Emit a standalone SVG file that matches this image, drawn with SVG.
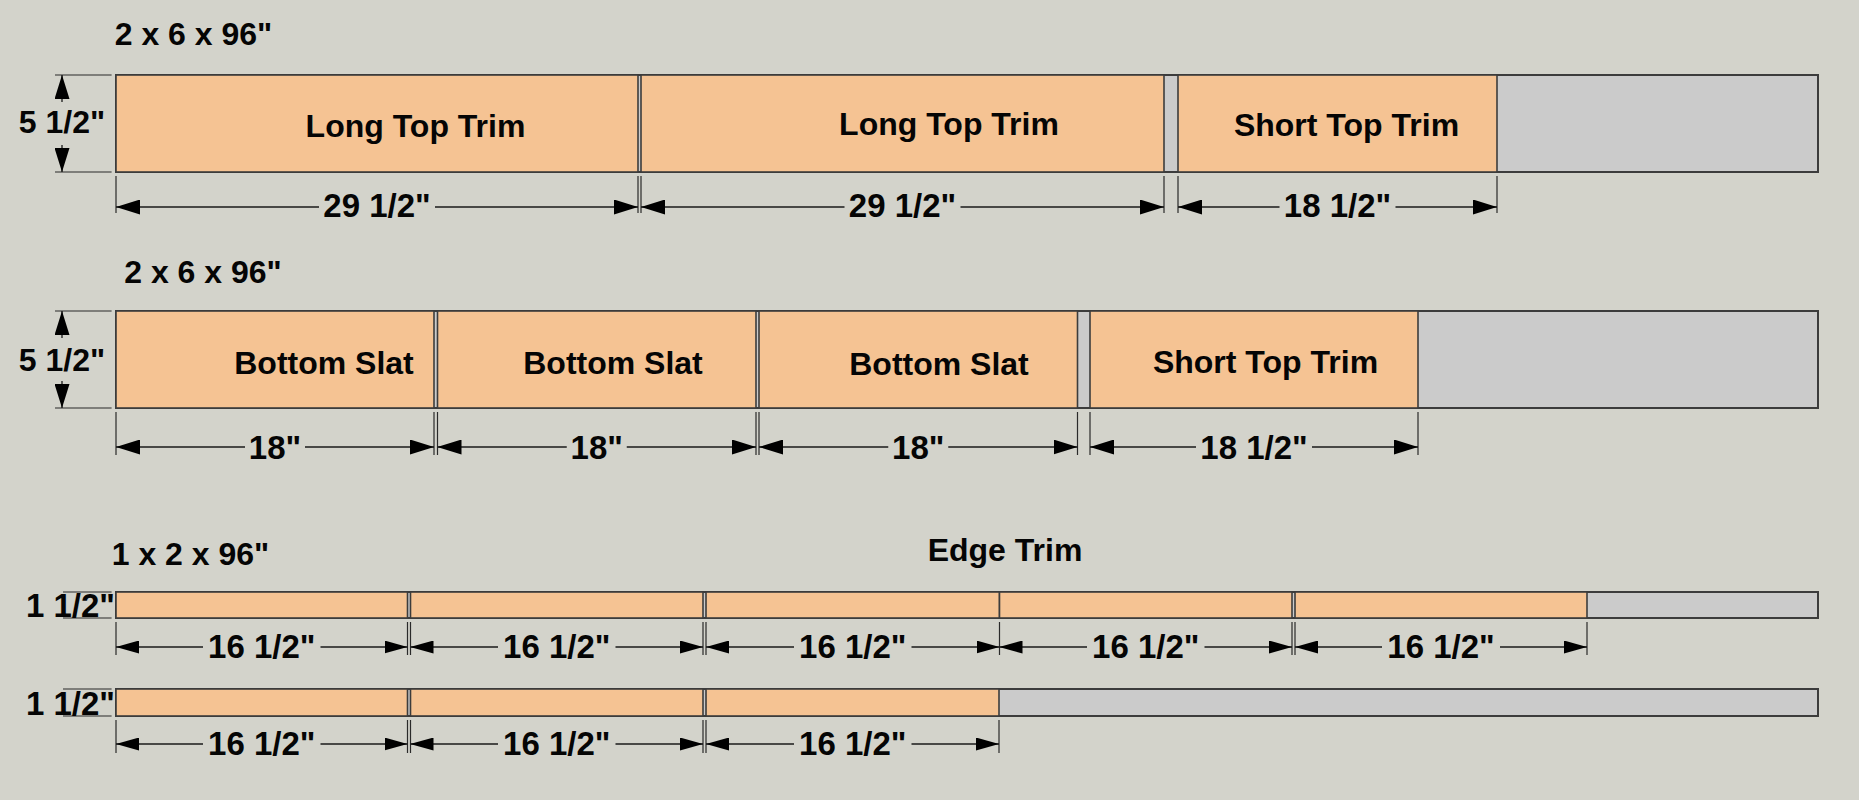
<svg xmlns="http://www.w3.org/2000/svg" width="1859" height="800" viewBox="0 0 1859 800">
<style>
.bg{fill:#d3d3cb}
.stock{fill:#cbcbcb;stroke:#3c3c3c;stroke-width:2}
.piece{fill:#f5c393;stroke:#3c3c3c;stroke-width:1.6}
.ext{stroke:#2a2a2a;stroke-width:1.2;fill:none}
.dim{stroke:#1a1a1a;stroke-width:1.3;fill:none}
text{font-family:"Liberation Sans",Arial,sans-serif;font-weight:bold;fill:#050505;text-anchor:middle}
.lbl{font-size:32px}
.dt{font-size:33px}
</style>
<defs>
<marker id="aL" markerWidth="24" markerHeight="15" refX="24" refY="7.5" orient="auto-start-reverse" markerUnits="userSpaceOnUse"><path d="M0,0 L24,7.5 L0,15 Z" fill="#000"/></marker>
<marker id="aS" markerWidth="23" markerHeight="13" refX="23" refY="6.5" orient="auto-start-reverse" markerUnits="userSpaceOnUse"><path d="M0,0 L23,6.5 L0,13 Z" fill="#000"/></marker>
</defs>
<rect class="bg" x="0" y="0" width="1859" height="800"/>

<!-- Board 1 -->
<g id="board1">
<text class="lbl" x="193.5" y="45">2 x 6 x 96"</text>
<rect class="stock" x="116" y="75" width="1702" height="97"/>
<g id="b1p1"><rect class="piece" x="116" y="75" width="522" height="97"/><text class="lbl" x="415.5" y="137">Long Top Trim</text></g>
<g id="b1p2"><rect class="piece" x="641" y="75" width="523" height="97"/><text class="lbl" x="949" y="135">Long Top Trim</text></g>
<g id="b1p3"><rect class="piece" x="1178" y="75" width="319" height="97"/><text class="lbl" x="1346.5" y="136">Short Top Trim</text></g>
</g>
<g id="dims1">
<path class="ext" d="M55,75 H111.6 M55,172 H111.6"/>
<path class="dim" d="M62,102 V75" marker-end="url(#aL)"/>
<path class="dim" d="M62,145 V172" marker-end="url(#aL)"/>
<text class="lbl" x="62" y="133">5 1/2"</text>
<path class="ext" d="M116,176 V213 M638,176 V213 M641,176 V213 M1164,176 V213 M1178,176 V213 M1497,176 V213"/>
<path class="dim" d="M319,207 H116" marker-end="url(#aL)"/><path class="dim" d="M435,207 H638" marker-end="url(#aL)"/>
<text class="dt" x="377" y="217">29 1/2"</text>
<path class="dim" d="M844.5,207 H641" marker-end="url(#aL)"/><path class="dim" d="M960.5,207 H1164" marker-end="url(#aL)"/>
<text class="dt" x="902.5" y="217">29 1/2"</text>
<path class="dim" d="M1279.5,207 H1178" marker-end="url(#aL)"/><path class="dim" d="M1395.5,207 H1497" marker-end="url(#aL)"/>
<text class="dt" x="1337.5" y="217">18 1/2"</text>
</g>

<!-- Board 2 -->
<g id="board2">
<text class="lbl" x="203" y="283">2 x 6 x 96"</text>
<rect class="stock" x="116" y="311" width="1702" height="97"/>
<g id="b2p1"><rect class="piece" x="116" y="311" width="318" height="97"/><text class="lbl" x="324" y="374">Bottom Slat</text></g>
<g id="b2p2"><rect class="piece" x="437.5" y="311" width="318.5" height="97"/><text class="lbl" x="613" y="374">Bottom Slat</text></g>
<g id="b2p3"><rect class="piece" x="759" y="311" width="318.5" height="97"/><text class="lbl" x="939" y="375">Bottom Slat</text></g>
<g id="b2p4"><rect class="piece" x="1090" y="311" width="328" height="97"/><text class="lbl" x="1265.5" y="373">Short Top Trim</text></g>
</g>
<g id="dims2">
<path class="ext" d="M55,311 H111.6 M55,408 H111.6"/>
<path class="dim" d="M62,338 V311" marker-end="url(#aL)"/>
<path class="dim" d="M62,381 V408" marker-end="url(#aL)"/>
<text class="lbl" x="62" y="371">5 1/2"</text>
<path class="ext" d="M116,412 V455 M434,412 V455 M437.5,412 V455 M756,412 V455 M759,412 V455 M1077.5,412 V455 M1090,412 V455 M1418,412 V455"/>
<path class="dim" d="M245,447 H116" marker-end="url(#aL)"/><path class="dim" d="M305,447 H434" marker-end="url(#aL)"/>
<text class="dt" x="275" y="459">18"</text>
<path class="dim" d="M566.75,447 H437.5" marker-end="url(#aL)"/><path class="dim" d="M626.75,447 H756" marker-end="url(#aL)"/>
<text class="dt" x="596.75" y="459">18"</text>
<path class="dim" d="M888.25,447 H759" marker-end="url(#aL)"/><path class="dim" d="M948.25,447 H1077.5" marker-end="url(#aL)"/>
<text class="dt" x="918.25" y="459">18"</text>
<path class="dim" d="M1196,447 H1090" marker-end="url(#aL)"/><path class="dim" d="M1312,447 H1418" marker-end="url(#aL)"/>
<text class="dt" x="1254" y="459">18 1/2"</text>
</g>

<!-- Board 3 -->
<g id="board3">
<text class="lbl" x="190.5" y="565">1 x 2 x 96"</text>
<text class="lbl" x="1005" y="561">Edge Trim</text>
<rect class="stock" x="116" y="592" width="1702" height="26"/>
<rect class="piece" x="116" y="592" width="291.5" height="26"/>
<rect class="piece" x="410.5" y="592" width="292.5" height="26"/>
<rect class="piece" x="706" y="592" width="293.5" height="26"/>
<rect class="piece" x="999.5" y="592" width="292.5" height="26"/>
<rect class="piece" x="1295" y="592" width="292" height="26"/>
</g>
<g id="dims3">
<path class="ext" d="M63,592 H111.6 M63,618 H111.6"/>
<text class="dt" x="70.5" y="617">1 1/2"</text>
<path class="ext" d="M116,622 V655 M407.5,622 V655 M410.5,622 V655 M703,622 V655 M706,622 V655 M999.5,622 V655 M1292,622 V655 M1295,622 V655 M1587,622 V655"/>
<path class="dim" d="M203,647 H116" marker-end="url(#aS)"/><path class="dim" d="M320.5,647 H407.5" marker-end="url(#aS)"/>
<text class="dt" x="261.75" y="658">16 1/2"</text>
<path class="dim" d="M498,647 H410.5" marker-end="url(#aS)"/><path class="dim" d="M615.5,647 H703" marker-end="url(#aS)"/>
<text class="dt" x="556.75" y="658">16 1/2"</text>
<path class="dim" d="M794,647 H706" marker-end="url(#aS)"/><path class="dim" d="M911.5,647 H999.5" marker-end="url(#aS)"/>
<text class="dt" x="852.75" y="658">16 1/2"</text>
<path class="dim" d="M1087,647 H999.5" marker-end="url(#aS)"/><path class="dim" d="M1204.5,647 H1292" marker-end="url(#aS)"/>
<text class="dt" x="1145.75" y="658">16 1/2"</text>
<path class="dim" d="M1382,647 H1295" marker-end="url(#aS)"/><path class="dim" d="M1500,647 H1587" marker-end="url(#aS)"/>
<text class="dt" x="1441" y="658">16 1/2"</text>
</g>

<!-- Board 4 -->
<g id="board4">
<rect class="stock" x="116" y="689" width="1702" height="27"/>
<rect class="piece" x="116" y="689" width="291.5" height="27"/>
<rect class="piece" x="410.5" y="689" width="292.5" height="27"/>
<rect class="piece" x="706" y="689" width="293" height="27"/>
</g>
<g id="dims4">
<path class="ext" d="M63,689 H111.6 M63,716 H111.6"/>
<text class="dt" x="70.5" y="715">1 1/2"</text>
<path class="ext" d="M116,720 V753 M407.5,720 V753 M410.5,720 V753 M703,720 V753 M706,720 V753 M999,720 V753"/>
<path class="dim" d="M203,744 H116" marker-end="url(#aS)"/><path class="dim" d="M320.5,744 H407.5" marker-end="url(#aS)"/>
<text class="dt" x="261.75" y="755">16 1/2"</text>
<path class="dim" d="M498,744 H410.5" marker-end="url(#aS)"/><path class="dim" d="M615.5,744 H703" marker-end="url(#aS)"/>
<text class="dt" x="556.75" y="755">16 1/2"</text>
<path class="dim" d="M794,744 H706" marker-end="url(#aS)"/><path class="dim" d="M911.5,744 H999" marker-end="url(#aS)"/>
<text class="dt" x="852.75" y="755">16 1/2"</text>
</g>
</svg>
